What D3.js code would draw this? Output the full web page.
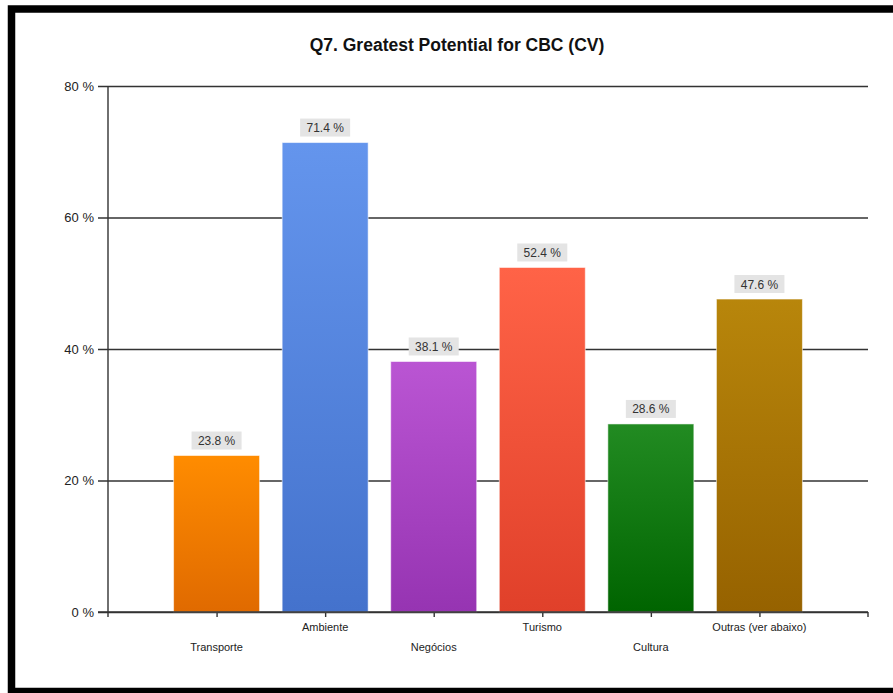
<!DOCTYPE html>
<html>
<head>
<meta charset="utf-8">
<script src="https://cdn.jsdelivr.net/npm/d3@7"></script>
<style>
  html, body { margin: 0; padding: 0; background: #fff; }
  svg { display: block; font-family: "Liberation Sans", Arial, sans-serif; }
</style>
</head>
<body>
<svg id="chart" width="893" height="693"></svg>
<script>
// Survey answers: share of respondents per area
const categories = ["Transporte", "Ambiente", "Negócios", "Turismo", "Cultura", "Outras (ver abaixo)"];
const values = [23.8, 71.4, 38.1, 52.4, 28.6, 47.6];
const yTicks = [0, 20, 40, 60, 80];
const topColors = ["#ff8c00", "#6495ed", "#ba55d3", "#ff6347", "#228b22", "#b8860b"];
const bottomColors = ["#e06a00", "#4472cc", "#9634b2", "#e0402a", "#006400", "#966200"];
const title = "Q7. Greatest Potential for CBC (CV)";

const svg = d3.select("#chart");

// Frame
svg.append("rect").attr("x", 11.5).attr("y", 9).attr("width", 900).attr("height", 682.5)
  .attr("fill", "none").attr("stroke", "#000").attr("stroke-width", 7.5);

const plot = { left: 108, right: 868, top: 86, bottom: 612 };

const x = d3.scalePoint().domain(categories).range([plot.left, plot.right]).padding(1);
const y = d3.scaleLinear().domain([0, 80]).range([plot.bottom, plot.top]);
const barW = 86;

// Gradients
const defs = svg.append("defs");
categories.forEach((c, i) => {
  const g = defs.append("linearGradient").attr("id", "grad" + i)
    .attr("x1", 0).attr("y1", 0).attr("x2", 0).attr("y2", 1);
  g.append("stop").attr("offset", "0%").attr("stop-color", topColors[i]);
  g.append("stop").attr("offset", "100%").attr("stop-color", bottomColors[i]);
});

// Title
svg.append("text").attr("x", 457).attr("y", 51).attr("text-anchor", "middle")
  .attr("font-size", 17.5).attr("font-weight", "bold").attr("fill", "#111")
  .text(title);

// Y axis with gridlines
const yAxis = d3.axisLeft(y).tickValues(yTicks)
  .tickSize(-(plot.right - plot.left)).tickSizeOuter(0)
  .tickFormat(d => d + " %");
const gy = svg.append("g").attr("transform", `translate(${plot.left},0)`).call(yAxis);
gy.select(".domain").remove();
gy.selectAll(".tick line").attr("x1", -10).attr("stroke", "#333").attr("stroke-width", 1.4);
gy.selectAll(".tick text").attr("x", -14).attr("font-size", 13).attr("fill", "#222")
  .attr("font-family", "Liberation Sans, Arial, sans-serif");

// Vertical axis line
svg.append("line").attr("x1", plot.left).attr("x2", plot.left)
  .attr("y1", plot.top).attr("y2", plot.bottom + 5)
  .attr("stroke", "#333").attr("stroke-width", 1.4);

// X axis ticks
const gx = svg.append("g").attr("transform", `translate(0,${plot.bottom})`)
  .call(d3.axisBottom(x).tickSize(5).tickSizeOuter(0).tickFormat(""));
gx.select(".domain").remove();
gx.selectAll(".tick line").attr("stroke", "#333").attr("stroke-width", 1.4);
svg.append("line").attr("x1", plot.right).attr("x2", plot.right)
  .attr("y1", plot.bottom).attr("y2", plot.bottom + 5)
  .attr("stroke", "#333").attr("stroke-width", 1.4);

// Staggered category labels
svg.append("g").selectAll("text").data(categories).join("text")
  .attr("x", d => x(d))
  .attr("y", (d, i) => i % 2 === 0 ? 651 : 631)
  .attr("text-anchor", "middle").attr("font-size", 11).attr("fill", "#222")
  .text(d => d);

// Bars
svg.append("g").selectAll("rect").data(values).join("rect")
  .attr("x", (d, i) => x(categories[i]) - barW / 2)
  .attr("y", d => y(d))
  .attr("width", barW)
  .attr("height", d => y(0) - y(d))
  .attr("fill", (d, i) => `url(#grad${i})`)
  .attr("stroke", "rgba(255,255,255,0.55)").attr("stroke-width", 1);

// Redraw zero line over bars
svg.append("line").attr("x1", plot.left - 10).attr("x2", plot.right)
  .attr("y1", y(0)).attr("y2", y(0)).attr("stroke", "#333").attr("stroke-width", 1.4);

// Value labels
const lab = svg.append("g").selectAll("g").data(values).join("g")
  .attr("transform", (d, i) => `translate(${x(categories[i])},${y(d) - 6})`);
lab.append("rect").attr("x", -25).attr("y", -18).attr("width", 50).attr("height", 18)
  .attr("fill", "#e4e4e4");
lab.append("text").attr("x", 0).attr("y", -4.5).attr("text-anchor", "middle")
  .attr("font-size", 12).attr("fill", "#333")
  .text(d => d.toFixed(1) + " %");
</script>
</body>
</html>
